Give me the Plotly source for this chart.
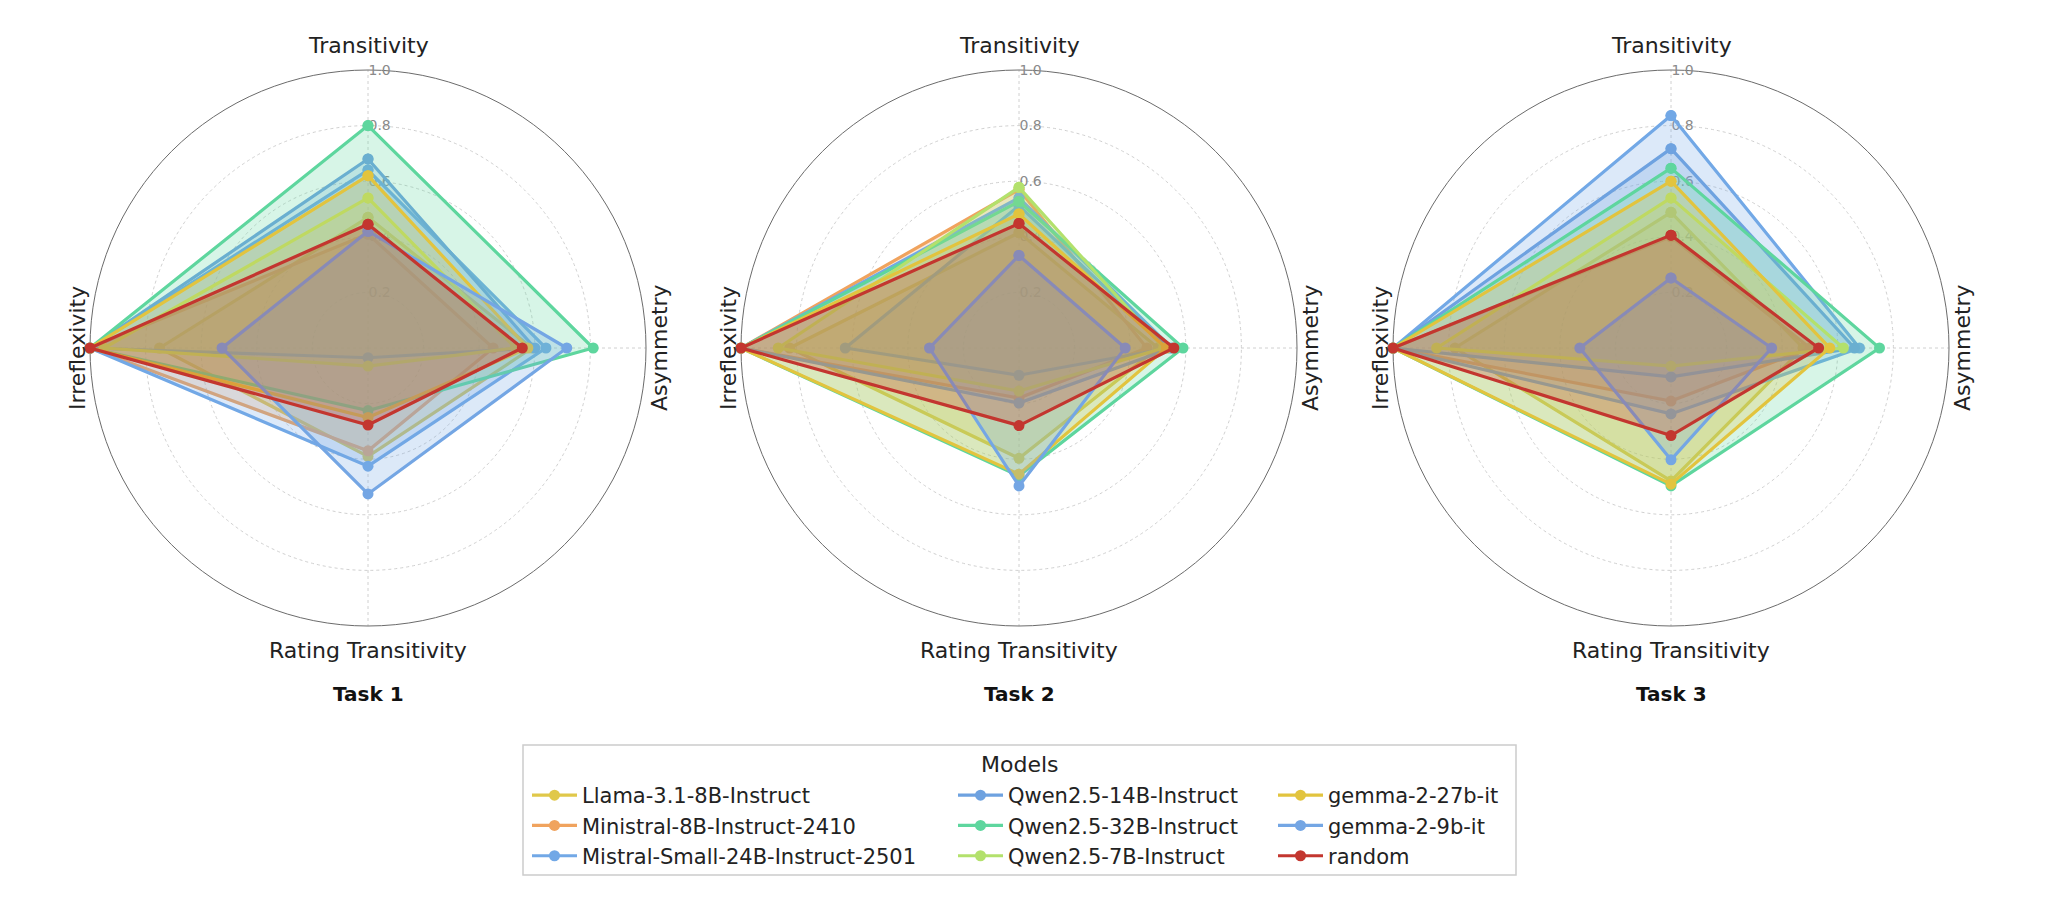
import plotly.graph_objects as go

axes_labels = ["Transitivity", "Asymmetry", "Rating Transitivity", "Irreflexivity"]
models = [
    "Llama-3.1-8B-Instruct", "Ministral-8B-Instruct-2410", "Mistral-Small-24B-Instruct-2501",
    "Qwen2.5-14B-Instruct", "Qwen2.5-32B-Instruct", "Qwen2.5-7B-Instruct",
    "gemma-2-27b-it", "gemma-2-9b-it", "random",
]
colors = ["#E0C84A", "#F0A35E", "#72A8E6", "#6EA2E0", "#5ED69E", "#B3E16C",
          "#E2C43E", "#74A6E4", "#C3362F"]
task_titles = ["Task 1", "Task 2", "Task 3"]

# values per model: [Transitivity, Asymmetry, Rating Transitivity, Irreflexivity]
task1_values = [
    [0.47, 0.59, 0.39, 0.75],
    [0.41, 0.45, 0.37, 1.0],
    [0.64, 0.64, 0.425, 1.0],
    [0.68, 0.60, 0.035, 1.0],
    [0.80, 0.81, 0.225, 1.0],
    [0.54, 0.53, 0.065, 0.95],
    [0.62, 0.575, 0.25, 1.0],
    [0.42, 0.715, 0.525, 0.525],
    [0.445, 0.555, 0.277, 1.0],
]
task2_values = [
    [0.415, 0.50, 0.397, 0.825],
    [0.57, 0.46, 0.18, 1.0],
    [0.54, 0.55, 0.198, 1.0],
    [0.512, 0.54, 0.098, 0.625],
    [0.527, 0.59, 0.46, 1.0],
    [0.578, 0.52, 0.155, 0.866],
    [0.482, 0.53, 0.454, 1.0],
    [0.333, 0.382, 0.496, 0.322],
    [0.448, 0.557, 0.279, 1.0],
]
task3_values = [
    [0.488, 0.475, 0.478, 0.777],
    [0.40, 0.50, 0.191, 1.0],
    [0.836, 0.678, 0.237, 1.0],
    [0.717, 0.66, 0.104, 1.0],
    [0.647, 0.75, 0.496, 1.0],
    [0.54, 0.62, 0.065, 0.843],
    [0.60, 0.571, 0.49, 1.0],
    [0.252, 0.362, 0.402, 0.328],
    [0.406, 0.531, 0.315, 1.0],
]
radial_ticks = [0.2, 0.4, 0.6, 0.8, 1.0]
radial_ticktext = ["0.2", "0.4", "0.6", "0.8", "1.0"]

all_values = [task1_values, task2_values, task3_values]
legend_ids = ["legend", "legend", "legend", "legend2", "legend2", "legend2",
              "legend3", "legend3", "legend3"]


def rgba(hexcol, a):
    h = hexcol.lstrip("#")
    r, g, b = int(h[0:2], 16), int(h[2:4], 16), int(h[4:6], 16)
    return f"rgba({r},{g},{b},{a})"


W, H = 2048, 902
centers_px = [368, 1019, 1671]
cy_px = 348
R_px = 278

fig = go.Figure()
for t, vals in enumerate(all_values):
    pid = "polar" if t == 0 else f"polar{t + 1}"
    for m, name in enumerate(models):
        r = vals[m] + [vals[m][0]]
        th = axes_labels + [axes_labels[0]]
        fig.add_trace(go.Scatterpolar(
            r=r, theta=th, subplot=pid, mode="lines", fill="toself",
            fillcolor=rgba(colors[m], 0.25), line=dict(width=0, color=rgba(colors[m], 0)),
            showlegend=False, hoverinfo="skip"))
        fig.add_trace(go.Scatterpolar(
            r=r, theta=th, subplot=pid, mode="lines+markers", name=name,
            line=dict(color=colors[m], width=3.2), marker=dict(color=colors[m], size=11),
            legend=legend_ids[m], legendgroup=name, showlegend=(t == 0)))

annotations = []
for t in range(3):
    cx = centers_px[t]
    x0 = (cx - R_px) / W
    x1 = (cx + R_px) / W
    y0 = (H - cy_px - R_px) / H
    y1 = (H - cy_px + R_px) / H
    pid = "polar" if t == 0 else f"polar{t + 1}"
    fig.layout[pid] = dict(
        domain=dict(x=[x0, x1], y=[y0, y1]),
        bgcolor="white",
        angularaxis=dict(
            categoryorder="array", categoryarray=axes_labels,
            direction="clockwise", rotation=90,
            showticklabels=False, ticks="",
            showline=True, linecolor="#6b6b6b", linewidth=1,
            showgrid=True, gridcolor="#d0d0d0", griddash="dot", gridwidth=1,
            layer="below traces",
        ),
        radialaxis=dict(
            range=[0, 1], tickvals=radial_ticks, ticktext=radial_ticktext,
            angle=90, tickangle=90, side="clockwise",
            showline=False, ticks="",
            showgrid=True, gridcolor="#d0d0d0", griddash="dot", gridwidth=1,
            tickfont=dict(size=14, color="#8a8a8a", family="DejaVu Sans"),
            layer="below traces",
        ),
    )
    fx = cx / W
    annotations += [
        dict(text="Transitivity", x=fx, y=(H - 45) / H, showarrow=False,
             xanchor="center", yanchor="middle", font=dict(size=22, color="#222222")),
        dict(text="Rating Transitivity", x=fx, y=(H - 650) / H, showarrow=False,
             xanchor="center", yanchor="middle", font=dict(size=22, color="#222222")),
        dict(text="Asymmetry", x=(cx + 291) / W, y=(H - cy_px) / H, showarrow=False,
             textangle=-90, xanchor="center", yanchor="middle",
             font=dict(size=22, color="#222222")),
        dict(text="Irreflexivity", x=(cx - 291) / W, y=(H - cy_px) / H, showarrow=False,
             textangle=-90, xanchor="center", yanchor="middle",
             font=dict(size=22, color="#222222")),
        dict(text=f"<b>{task_titles[t]}</b>", x=fx, y=(H - 694) / H, showarrow=False,
             xanchor="center", yanchor="middle", font=dict(size=20, color="#111111")),
    ]

annotations.append(dict(text="Models", x=1019.5 / W, y=(H - 764) / H, showarrow=False,
                        xanchor="center", yanchor="middle",
                        font=dict(size=22, color="#222222")))

legend_common = dict(
    orientation="v", bgcolor="rgba(0,0,0,0)", borderwidth=0,
    font=dict(size=21, color="#222222", family="DejaVu Sans"),
    itemwidth=45, tracegroupgap=0, xanchor="left", yanchor="top",
)
leg_top = (H - 775) / H
fig.update_layout(
    width=W, height=H,
    margin=dict(l=0, r=0, t=0, b=0),
    paper_bgcolor="white", plot_bgcolor="white",
    font=dict(family="DejaVu Sans", color="#222222"),
    annotations=annotations,
    legend=dict(x=527 / W, y=leg_top, **legend_common),
    legend2=dict(x=953 / W, y=leg_top, **legend_common),
    legend3=dict(x=1273 / W, y=leg_top, **legend_common),
    shapes=[dict(type="rect", xref="paper", yref="paper",
                 x0=523 / W, x1=1516 / W, y0=(H - 875) / H, y1=(H - 745) / H,
                 line=dict(color="#cccccc", width=1.5), fillcolor="rgba(0,0,0,0)",
                 layer="below")],
)

fig.write_html("out.html", config={"displayModeBar": False},
               post_script="document.body.style.margin='0';")
